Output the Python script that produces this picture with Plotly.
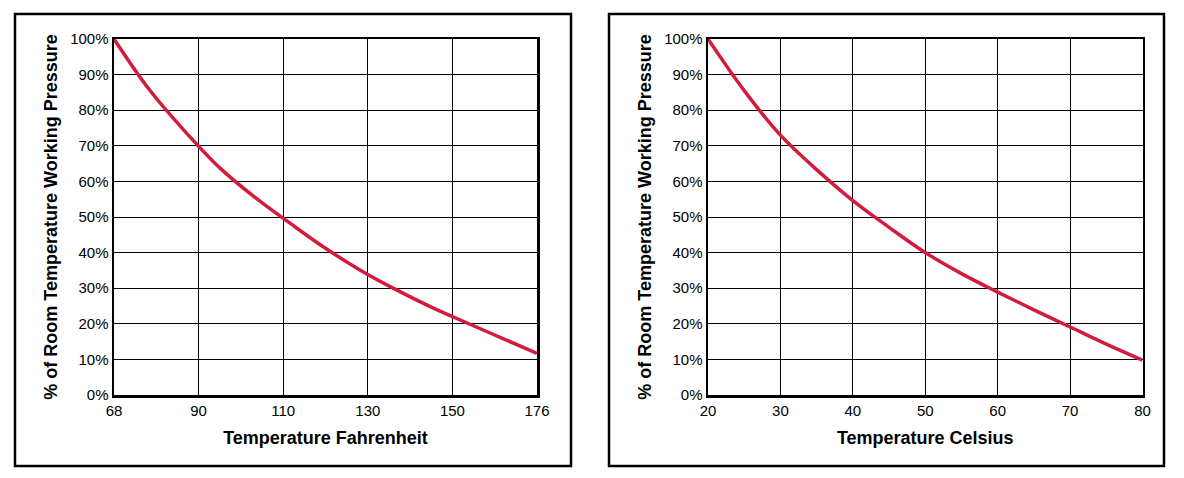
import numpy as np
import plotly.graph_objects as go

# ---- data ----
# Left panel: temperature (Fahrenheit) vs % of room-temperature working pressure
f_temp = [68, 77, 86, 95, 104, 113, 122, 131, 140, 149, 158, 167, 176]
f_pct = [100, 85.8, 74.2, 63.8, 55.5, 48.2, 41.2, 35.0, 29.6, 24.7, 20.3, 16.0, 11.7]
f_tick_labels = ["68", "90", "110", "130", "150", "176"]

# Right panel: temperature (Celsius)
c_temp = [20, 25, 30, 35, 40, 45, 50, 55, 60, 65, 70, 75, 80]
c_pct = [100, 85.5, 73.0, 63.3, 54.6, 47.1, 40.0, 34.1, 28.9, 23.9, 19.1, 14.3, 9.8]
c_tick_labels = ["20", "30", "40", "50", "60", "70", "80"]

y_ticks = [0, 10, 20, 30, 40, 50, 60, 70, 80, 90, 100]
y_tick_labels = [f"{v}%" for v in y_ticks]

W, H = 1184, 478
RED = "#d31c3d"
FONT = "Liberation Sans, Arial, Helvetica, sans-serif"
YTITLE = "<b>% of Room Temperature Working Pressure</b>"

fig = go.Figure()
fig.add_trace(go.Scatter(x=f_temp, y=f_pct, mode="lines",
                         line=dict(color=RED, width=3.5, shape="spline", smoothing=1.0),
                         xaxis="x", yaxis="y", showlegend=False, hoverinfo="skip"))
fig.add_trace(go.Scatter(x=c_temp, y=c_pct, mode="lines",
                         line=dict(color=RED, width=3.5, shape="spline", smoothing=1.0),
                         xaxis="x2", yaxis="y2", showlegend=False, hoverinfo="skip"))

f_tickvals = list(np.linspace(68, 176, len(f_tick_labels)))
c_tickvals = [float(v) for v in c_tick_labels]


def px(x):
    return x / W


def py(y):
    return 1 - y / H


ydom = [py(395), py(39)]
tickfont = dict(size=15, color="black", family=FONT)
titlefont = dict(size=18, color="black", family=FONT)

common_x = dict(showline=True, linecolor="black", linewidth=2.5, mirror=True,
                showgrid=True, gridcolor="black", gridwidth=1, zeroline=False,
                ticks="", tickfont=tickfont, automargin=False, fixedrange=True)
common_y = dict(showline=True, linecolor="black", linewidth=2.5, mirror=True,
                showgrid=True, gridcolor="black", gridwidth=1, zeroline=False,
                ticks="", tickfont=tickfont, automargin=False,
                range=[0, 100], tickvals=y_ticks, ticktext=y_tick_labels,
                domain=ydom, fixedrange=True)

fig.update_layout(
    width=W, height=H,
    margin=dict(l=0, r=0, t=0, b=0),
    paper_bgcolor="white", plot_bgcolor="white",
    font=dict(family=FONT, color="black"),
    xaxis=dict(common_x, domain=[px(114), px(537)], range=[68, 176],
               tickvals=f_tickvals, ticktext=f_tick_labels, anchor="y",
               title=dict(text="<b>Temperature Fahrenheit</b>", standoff=14, font=titlefont)),
    yaxis=dict(common_y, anchor="x",
               title=dict(text=YTITLE, standoff=8, font=titlefont)),
    xaxis2=dict(common_x, domain=[px(708), px(1142.5)], range=[20, 80],
                tickvals=c_tickvals, ticktext=c_tick_labels, anchor="y2",
                title=dict(text="<b>Temperature Celsius</b>", standoff=14, font=titlefont)),
    yaxis2=dict(common_y, anchor="x2",
                title=dict(text=YTITLE, standoff=8, font=titlefont)),
    shapes=[
        dict(type="rect", xref="paper", yref="paper",
             x0=px(15), x1=px(571), y0=py(466), y1=py(14),
             line=dict(color="black", width=2.5), layer="below"),
        dict(type="rect", xref="paper", yref="paper",
             x0=px(609), x1=px(1164), y0=py(466), y1=py(14),
             line=dict(color="black", width=2.5), layer="below"),
    ],
)

fig.write_html("out.html",
               config={"displayModeBar": False, "staticPlot": True},
               post_script="document.body.style.margin='0px';document.body.style.padding='0px';")
